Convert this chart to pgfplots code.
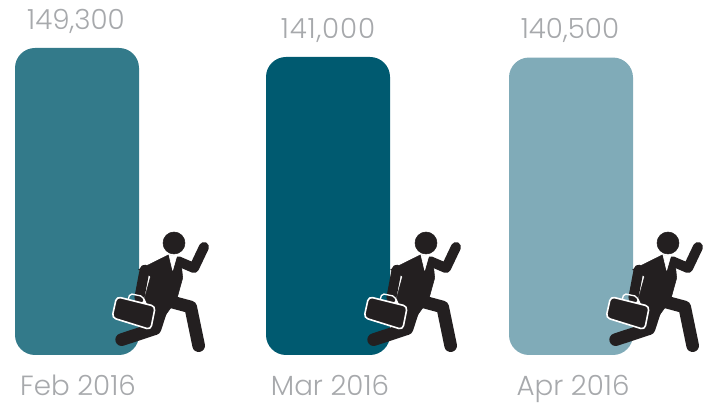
\documentclass[border=0pt]{standalone}
\usepackage{pgfplots}
\pgfplotsset{compat=1.18}
\usepackage{fontspec}
\setmainfont{Poppins Light}
\definecolor{barA}{HTML}{337A8A}
\definecolor{barB}{HTML}{005A70}
\definecolor{barC}{HTML}{80ABB8}
\definecolor{txt}{HTML}{A7A9AC}
\definecolor{ink}{HTML}{231F20}
% icon, coordinates in 1/3 reference pixels relative to the head centre
\pgfdeclareplotmark{man}{%
  \begin{scope}[x=0.25pt,y=0.25pt,line cap=round,line join=round]
    \fill[ink] (0,0) circle (33);
    % raised arm
    \draw[ink,line width=7.5pt] (13,-55) -- (60,-75) -- (90,-12);
    % torso
    \fill[ink] (-106,-80) -- (-17,-36) -- (20,-46) -- (26,-105) -- (8,-170) -- (-50,-250) -- (-88,-165) -- (-70,-100) -- cycle;
    % carrying arm
    \draw[ink,line width=7.5pt] (-88,-80) -- (-104,-165);
    % front leg
    \draw[ink,line width=9.5pt] (-32,-170) -- (50,-192) -- (74,-308);
    % back leg
    \draw[ink,line width=9.5pt] (-32,-180) -- (-57,-257) -- (-157,-290);
    % briefcase
    \filldraw[ink,draw=white,line width=1.2pt,rounded corners=3pt] (-172,-161) -- (-56,-190) -- (-70,-260) -- (-186,-224) -- cycle;
    \draw[white,line width=1pt,rounded corners=1.5pt] (-137,-168) -- (-132,-152) -- (-94,-160) -- (-87,-180);
    \fill[white] (-15,-36) -- (8,-40) -- (-4,-82) -- cycle;
  \end{scope}%
}
\begin{document}
\begin{tikzpicture}
\begin{axis}[
  scale only axis, width=531pt, height=302.25pt,
  xmin=0, xmax=708, ymin=-178081, ymax=193567,
  axis lines=none, clip=false,
  nodes={font=\fontsize{20.8pt}{24pt}\selectfont, text=txt, inner sep=0pt, anchor=base}]
\addplot[draw=none,fill=barA,rounded corners=15pt] coordinates {(15,-133815) (15,149300) (139,149300) (139,-133815)} -- cycle;
\addplot[draw=none,fill=barB,rounded corners=15pt] coordinates {(266,-133815) (266,141000) (390,141000) (390,-133815)} -- cycle;
\addplot[draw=none,fill=barC,rounded corners=15pt] coordinates {(509,-133815) (509,140500) (633,140500) (633,-133815)} -- cycle;
\addplot[only marks,mark=man,forget plot] coordinates {(174,-30529) (426,-30529) (668,-30529)};
\node at (axis cs:76,165900) {149,300};
\node at (axis cs:328,158500) {\addfontfeature{LetterSpace=3}141,000};
\node at (axis cs:570,158500) {140,500};
\node at (axis cs:78,-171600) {Feb 2016};
\node at (axis cs:330,-171600) {Mar 2016};
\node at (axis cs:573,-171600) {Apr 2016};
\end{axis}
\pgfresetboundingbox
\path[use as bounding box] (0,0) rectangle (531pt,302.25pt);
\end{tikzpicture}
\end{document}
